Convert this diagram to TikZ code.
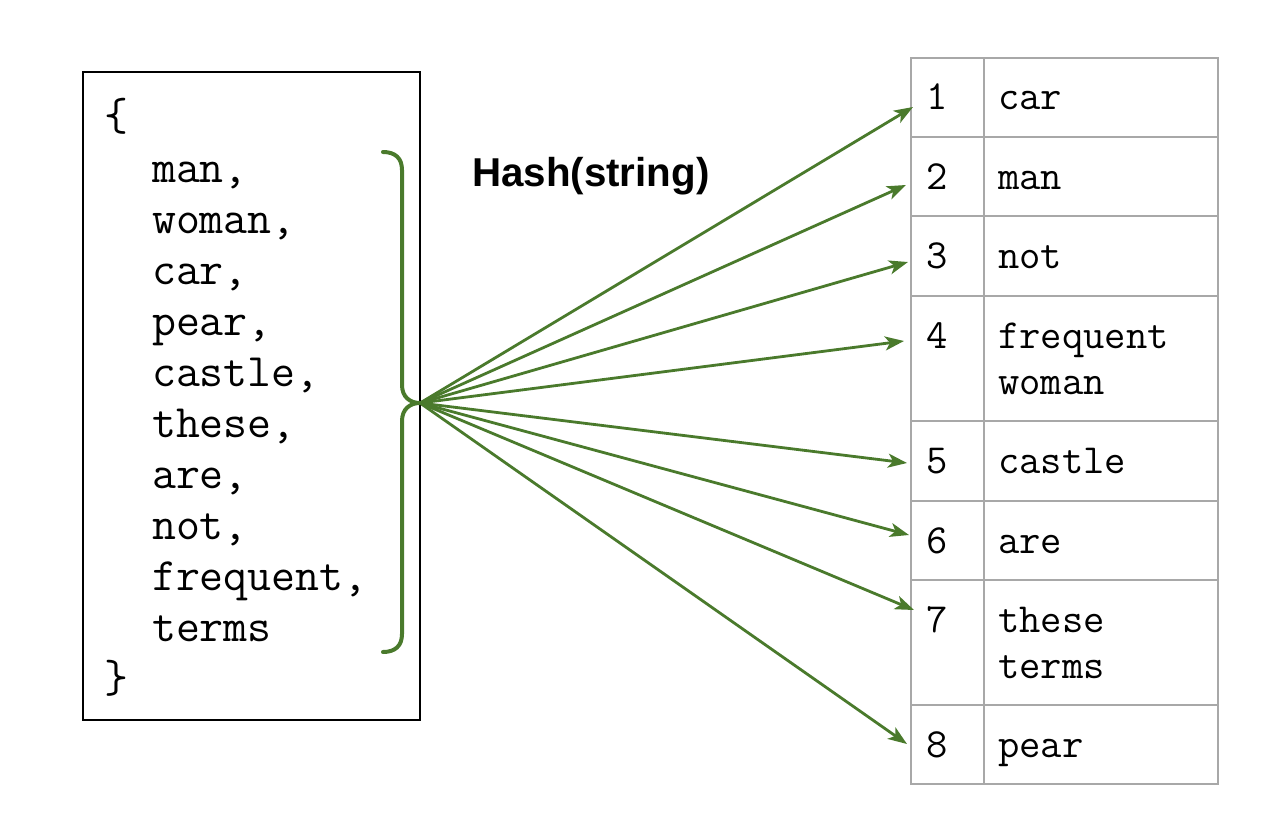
\documentclass[tikz,border=0pt]{standalone}
\usepackage{fontspec}
\setmainfont{Liberation Sans}
\usetikzlibrary{arrows.meta}
\definecolor{grn}{HTML}{4A7A2C}
\definecolor{grid}{HTML}{A8A8A8}
\tikzset{
  lefttext/.style={anchor=base west,inner sep=0pt,font=\ttfamily\fontsize{46.5}{50}\selectfont},
  tabtext/.style={anchor=base west,inner sep=0pt,font=\ttfamily\fontsize{41.4}{45}\selectfont},
  hasharrow/.style={draw=grn,line width=2.8pt,-{Stealth[length=19pt,width=14pt,inset=5pt]}},
  gridline/.style={draw=grid,line width=2pt},
}
\begin{document}
\begin{tikzpicture}[x=1pt,y=-1pt]
\useasboundingbox (0,0) rectangle (1270,816);
% left box
\node (box) [draw=black,line width=1.5pt,minimum width=337pt,minimum height=648pt,inner sep=0pt] at (251.5,396) {};
\node (ob) [lefttext] at (104,131) {\{};
\node (w1) [lefttext] at (104,182) {\ \ man,};
\node (w2) [lefttext] at (104,233) {\ \ woman,};
\node (w3) [lefttext] at (104,284) {\ \ car,};
\node (w4) [lefttext] at (104,335) {\ \ pear,};
\node (w5) [lefttext] at (104,386) {\ \ castle,};
\node (w6) [lefttext] at (104,437) {\ \ these,};
\node (w7) [lefttext] at (104,488) {\ \ are,};
\node (w8) [lefttext] at (104,539) {\ \ not,};
\node (w9) [lefttext] at (104,590) {\ \ frequent,};
\node (w10) [lefttext] at (104,641) {\ \ terms};
\node (cb) [lefttext] at (104,692) {\}};
% brace
\coordinate (tip) at (420,403);
\draw[grn,line width=4pt,line cap=round]
  (383,152) .. controls (395,152) and (402,158) .. (402,170) -- (402,385)
  .. controls (402,397) and (410,403) .. (tip)
  .. controls (410,403) and (402,409) .. (402,421) -- (402,634)
  .. controls (402,646) and (395,652) .. (383,652);
% heading
\node (hash) [anchor=base west,inner sep=0pt,font=\bfseries\fontsize{40.3}{44}\selectfont] at (472,186) {Hash(string)};
% table grid
\draw[gridline] (911,58) rectangle (1218,784);
\draw[gridline] (984,58) -- (984,784);
\foreach \y in {137,216,296,421,501,580,705} \draw[gridline] (911,\y) -- (1218,\y);
% table text
\node (n1) [tabtext] at (926,110) {1};  \node (t1) [tabtext] at (998,110) {car};
\node (n2) [tabtext] at (926,189) {2};  \node (t2) [tabtext] at (998,189) {man};
\node (n3) [tabtext] at (926,268) {3};  \node (t3) [tabtext] at (998,268) {not};
\node (n4) [tabtext] at (926,348) {4};  \node (t4) [tabtext] at (998,348) {frequent};
\node (t4b) [tabtext] at (998,394) {woman};
\node (n5) [tabtext] at (926,473) {5};  \node (t5) [tabtext] at (998,473) {castle};
\node (n6) [tabtext] at (926,553) {6};  \node (t6) [tabtext] at (998,553) {are};
\node (n7) [tabtext] at (926,632) {7};  \node (t7) [tabtext] at (998,632) {these};
\node (t7b) [tabtext] at (998,678) {terms};
\node (n8) [tabtext] at (926,757) {8};  \node (t8) [tabtext] at (998,757) {pear};
% arrow targets
\coordinate (a1) at (913,107);
\coordinate (a2) at (906,185);
\coordinate (a3) at (908,262);
\coordinate (a4) at (904,341);
\coordinate (a5) at (907,463);
\coordinate (a6) at (909,535);
\coordinate (a7) at (914,610);
\coordinate (a8) at (907,744);
\foreach \i in {1,...,8} \draw[hasharrow] (tip) -- (a\i);
\end{tikzpicture}
\end{document}
